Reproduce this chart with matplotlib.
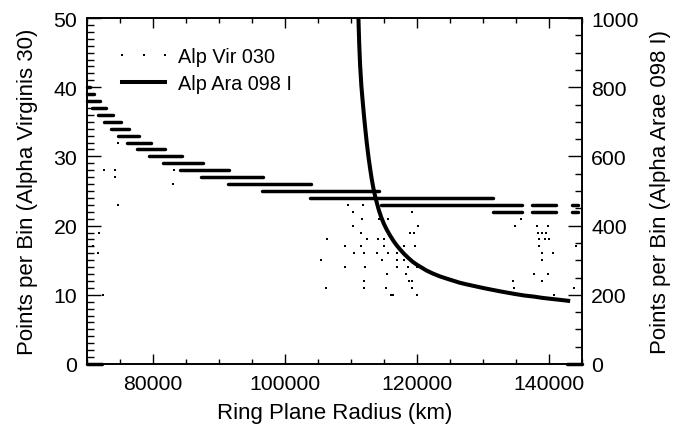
import matplotlib
matplotlib.use('Agg')
import matplotlib.pyplot as plt
from matplotlib.lines import Line2D
from matplotlib.ticker import MultipleLocator

plt.rcParams['font.family'] = ['Liberation Sans', 'DejaVu Sans']

# Alp Vir 030: dense runs of points per bin (horizontal runs at integer counts)
step_values = [40, 39, 38, 37, 36, 35, 34, 33, 32, 31, 30, 29, 28, 27, 26, 25, 24,
               23, 23, 23, 22, 22, 22, 0, 0]
step_start = [70000, 70000, 70000, 70760, 71670, 72580, 73640, 74700, 76070, 77590,
              79410, 81530, 84110, 87290, 91390, 96550, 103830,
              114600, 137500, 143570, 131590, 137500, 143570, 70000, 142800]
step_end = [70450, 71060, 71970, 72880, 73940, 75160, 76370, 77890, 79710, 81830,
            84410, 87600, 91540, 96700, 103980, 114300, 131590,
            135990, 141150, 144480, 135990, 141150, 144480, 72300, 145000]

# Alp Vir 030: isolated points
vir_x = [72620, 74250, 74250, 83240, 83090, 74750, 74660, 71820, 70860, 71710, 72470,
         109640, 111820, 110400, 119260, 111670, 114300, 115710, 110400, 120260,
         111520, 119000, 119610, 106450, 112520, 114190, 115050, 109140, 111520,
         115100, 118130, 119760, 110500, 112020, 114040, 115710, 116980, 105500,
         114800, 116980, 118130, 109140, 112170, 117070, 118740, 120110, 115560,
         118390, 112020, 118850, 119260, 106260, 112070, 115310, 119260, 116120,
         116370, 120110,
         135790, 134930, 138310, 139980, 138460, 139070, 139630, 138610, 139480,
         140130, 138610, 144180, 139070, 140740, 138980, 137810, 139980, 139070,
         134670, 134780, 143880, 140840]
vir_y = [28, 28, 27, 28, 26, 23, 32, 19, 17, 16, 10,
         23, 23, 22, 22, 21, 21, 21, 20, 20,
         19, 19, 19, 18, 18, 18, 18, 17, 17,
         17, 17, 17, 16, 16, 16, 16, 16, 15,
         15, 15, 15, 14, 14, 14, 14, 14, 13,
         13, 12, 12, 12, 11, 11, 11, 11, 10,
         10, 10,
         21, 20, 20, 20, 19, 19, 19, 18, 18,
         18, 17, 17, 16, 16, 15, 13, 13, 12,
         12, 11, 11, 10]

# Alp Ara 098 I (right axis)
ara_x = [111080, 111160, 111280, 111410, 111600, 111800, 112000, 112170, 112420,
         112700, 113000, 113190, 113450, 113690, 113950, 114250, 114600, 115000,
         115460, 116000, 116500, 117000, 117480, 118100, 118700, 119350, 120020,
         120800, 121500, 122500, 123550, 124500, 125500, 126500, 127600, 128800,
         130000, 131300, 132650, 133800, 135000, 136300, 137700, 139100, 140500,
         141900, 143270]
ara_y = [1040, 1000, 925, 865, 805, 760, 718, 685, 640,
         596, 556, 533, 506, 485, 466, 445, 425, 406,
         388, 370, 355, 342, 331, 318, 307, 296, 287,
         278, 270, 261, 253, 247, 241, 235, 230, 225,
         220, 215, 210, 206, 202, 198, 195, 191, 188,
         185, 182]

xticks = [80000, 100000, 120000, 140000]

fig = plt.figure(figsize=(6.88, 4.27), dpi=100)
ax = fig.add_axes([0.1265, 0.1452, 0.7188, 0.8103])
ax2 = ax.twinx()

ax.hlines(step_values, step_start, step_end, colors='black', linewidth=2.5,
          capstyle='round', clip_on=False, zorder=3)
ax.plot(vir_x, vir_y, linestyle='none', marker='s', markersize=1.8,
        markeredgewidth=0, color='black', zorder=3)
ax2.plot(ara_x, ara_y, color='black', linewidth=2.9, solid_capstyle='butt',
         solid_joinstyle='round')

ax.set_xlim(70000, 145000)
ax.set_ylim(0, 50)
ax2.set_ylim(0, 1000)

ax.set_xticks(xticks)
ax.xaxis.set_minor_locator(MultipleLocator(5000))
ax.yaxis.set_major_locator(MultipleLocator(10))
ax.yaxis.set_minor_locator(MultipleLocator(1))
ax2.yaxis.set_major_locator(MultipleLocator(200))
ax2.yaxis.set_minor_locator(MultipleLocator(50))

fs_tick = 15.3
ax.tick_params(axis='x', which='both', direction='in', top=True, bottom=True,
               width=1.0, labelsize=fs_tick, pad=7)
ax.tick_params(axis='x', which='major', length=7.2)
ax.tick_params(axis='x', which='minor', length=3.6)
ax.tick_params(axis='y', which='both', direction='in', left=True, right=False,
               width=1.0, labelsize=fs_tick, pad=7)
ax.tick_params(axis='y', which='major', length=10)
ax.tick_params(axis='y', which='minor', length=5)
ax2.tick_params(axis='y', which='both', direction='in', right=True, left=False,
                width=1.0, labelsize=fs_tick, pad=7)
ax2.tick_params(axis='y', which='major', length=10)
ax2.tick_params(axis='y', which='minor', length=5)

for a in (ax, ax2):
    for s in a.spines.values():
        s.set_linewidth(1.2)

ax.set_xlabel('Ring Plane Radius (km)', fontsize=16, labelpad=7)
ax.set_ylabel('Points per Bin (Alpha Virginis 30)', fontsize=16, labelpad=11)
ax2.set_ylabel('Points per Bin (Alpha Arae 098 I)', fontsize=16, labelpad=8)

h1 = Line2D([], [], linestyle='none', marker='s', markersize=1.8,
            markeredgewidth=0, color='black')
h2 = Line2D([], [], color='black', linewidth=2.9)
ax2.legend([h1, h2], ['Alp Vir 030', 'Alp Ara 098 I'], loc='upper left',
           bbox_to_anchor=(0.058, 0.915), frameon=False, borderpad=0,
           borderaxespad=0, numpoints=3, handlelength=2.8, handletextpad=0.35,
           labelspacing=0.37, fontsize=14.3)

fig.savefig('out.png', dpi=100)
